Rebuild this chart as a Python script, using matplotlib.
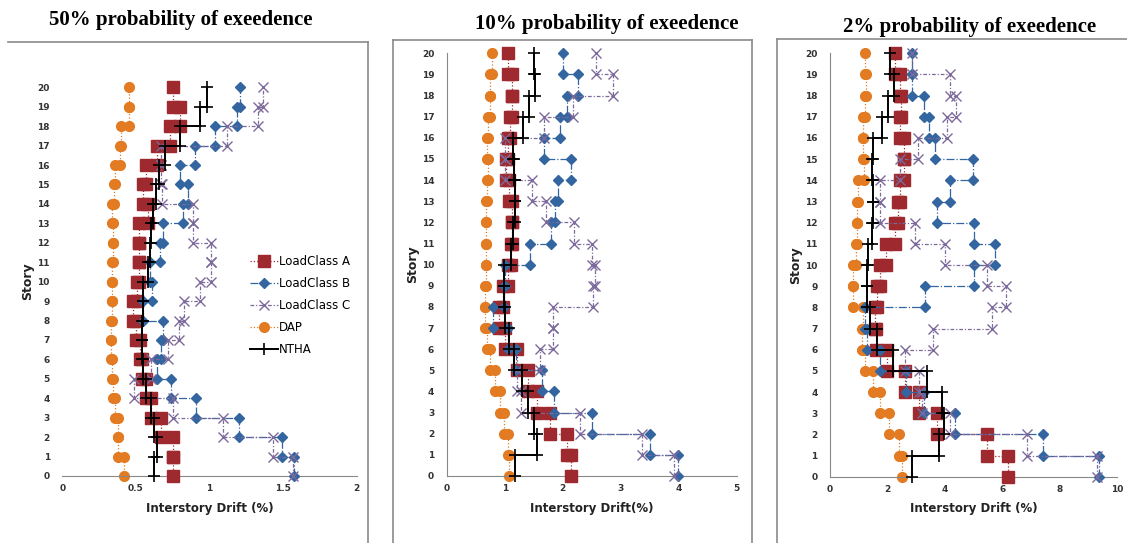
import matplotlib
matplotlib.use("Agg")
import matplotlib.pyplot as plt
import numpy as np
from matplotlib.lines import Line2D

# interstory drift (%) for stories 1..20, one list per method and hazard level
A50 = [0.75, 0.75, 0.67, 0.60, 0.57, 0.54, 0.53, 0.50, 0.48, 0.51,
       0.52, 0.52, 0.52, 0.58, 0.55, 0.57, 0.64, 0.73, 0.80, 0.75]
B50 = [1.575, 1.49, 1.20, 0.91, 0.74, 0.64, 0.67, 0.685, 0.55, 0.61,
       0.595, 0.665, 0.685, 0.82, 0.855, 0.80, 0.90, 1.04, 1.19, 1.21]
C50 = [1.57, 1.43, 1.09, 0.754, 0.49, 0.60, 0.72, 0.79, 0.83, 0.935,
       1.01, 1.01, 0.885, 0.885, 0.675, 0.67, 0.67, 1.12, 1.33, 1.365]
D50 = [0.42, 0.38, 0.38, 0.36, 0.345, 0.34, 0.33, 0.33, 0.335, 0.335,
       0.335, 0.345, 0.345, 0.34, 0.35, 0.355, 0.39, 0.40, 0.45, 0.45]
N50 = [0.625, 0.64, 0.62, 0.60, 0.57, 0.55, 0.54, 0.54, 0.545, 0.55,
       0.585, 0.595, 0.605, 0.615, 0.635, 0.66, 0.70, 0.80, 0.935, 0.985]

A10 = [2.15, 2.07, 1.78, 1.55, 1.40, 1.22, 1.00, 0.90, 0.97, 1.06,
       1.10, 1.12, 1.12, 1.08, 1.03, 1.05, 1.09, 1.12, 1.12, 1.06]
B10 = [3.98, 3.50, 2.50, 1.85, 1.65, 1.20, 1.05, 0.80, 0.98, 1.00,
       1.44, 1.79, 1.87, 1.92, 2.15, 1.67, 1.95, 2.07, 2.27, 2.00]
C10 = [3.91, 3.36, 2.30, 1.28, 1.22, 1.60, 1.84, 1.84, 2.53, 2.55,
       2.50, 2.20, 1.72, 1.47, 1.00, 1.00, 1.67, 2.18, 2.87, 2.57]
D10 = [1.08, 1.05, 0.99, 0.92, 0.83, 0.74, 0.70, 0.66, 0.66, 0.67,
       0.68, 0.68, 0.68, 0.70, 0.71, 0.69, 0.71, 0.74, 0.75, 0.78]
N10 = [1.18, 1.55, 1.50, 1.40, 1.30, 1.16, 1.08, 1.00, 0.98, 0.99,
       1.10, 1.15, 1.17, 1.17, 1.16, 1.15, 1.32, 1.42, 1.53, 1.50]

A2 = [6.19, 5.47, 3.74, 3.10, 2.62, 2.00, 1.60, 1.57, 1.63, 1.75,
      1.95, 2.25, 2.36, 2.44, 2.59, 2.56, 2.44, 2.47, 2.42, 2.27]
B2 = [9.36, 7.42, 4.36, 3.28, 2.65, 1.74, 1.30, 1.20, 3.30, 5.00,
      5.75, 5.00, 3.72, 4.19, 4.98, 3.66, 3.43, 3.26, 2.85, 2.85]
C2 = [9.30, 6.86, 4.19, 3.20, 3.08, 2.60, 3.58, 5.64, 6.14, 5.47,
      4.00, 2.97, 1.74, 1.74, 2.45, 3.05, 4.07, 4.40, 4.16, 2.85]
D2 = [2.50, 2.40, 2.05, 1.74, 1.50, 1.22, 1.10, 1.16, 0.79, 0.80,
      0.89, 0.94, 0.93, 0.98, 1.18, 1.14, 1.16, 1.23, 1.26, 1.22]
N2 = [2.85, 3.80, 3.95, 3.90, 3.37, 2.20, 1.65, 1.40, 1.28, 1.28,
      1.33, 1.45, 1.50, 1.48, 1.45, 1.50, 1.80, 2.03, 2.24, 2.10]

titles = ["50% probability of exeedence", "10% probability of exeedence",
          "2% probability of exeedence"]
xlabels = ["Interstory Drift (%)", "Interstory Drift(%)", "Interstory Drift (%)"]
xlims = [2, 5, 10]
xticks = [[0, 0.5, 1, 1.5, 2], [0, 1, 2, 3, 4, 5], [0, 2, 4, 6, 8, 10]]
names = ["LoadClass A", "LoadClass B", "LoadClass C", "DAP", "NTHA"]

red = "#9E2A2F"
blue = "#3366A0"
purple = "#7D6A9C"
orange = "#E27B22"

styles = [
    dict(color=red, ls=":", marker="s", ms=8.5, lw=0.9, zorder=3),
    dict(color=blue, ls="-.", marker="D", ms=5.5, lw=0.9, zorder=4),
    dict(color=purple, ls=(0, (3, 1.5, 1, 1.5)), marker="x", ms=7, mew=1.0, lw=0.9, zorder=5),
    dict(color=orange, ls=":", marker="o", ms=7, lw=0.9, zorder=2),
    dict(color="black", ls="-", marker="+", ms=9, mew=1.2, lw=1.4, zorder=6),
]

panels = [[A50, B50, C50, D50, N50],
          [A10, B10, C10, D10, N10],
          [A2, B2, C2, D2, N2]]

boxes = [[0.0553, 0.1234, 0.2612, 0.7158],
         [0.3964, 0.1234, 0.2573, 0.7784],
         [0.7365, 0.1221, 0.2549, 0.7797]]

fig = plt.figure(figsize=(11.27, 5.43), dpi=100)

story_y = np.repeat(np.arange(21), 2)[1:-1]  # 0,1,1,2,2,...,19,20

for k in range(3):
    ax = fig.add_axes(boxes[k])
    for vals, st in zip(panels[k], styles):
        xs = np.repeat(vals, 2)
        ax.plot(xs, story_y, clip_on=False, **st)
    ax.set_xlim(0, xlims[k])
    ax.set_ylim(0, 20)
    ax.set_xticks(xticks[k])
    ax.set_xticklabels([f"{t:g}" for t in xticks[k]])
    ax.set_yticks(range(21))
    ax.tick_params(length=0, labelsize=6.5, colors="#333333")
    ax.tick_params(axis="y", pad=9)
    ax.tick_params(axis="x", pad=6)
    for lab in ax.get_xticklabels() + ax.get_yticklabels():
        lab.set_fontweight("bold")
    for s in ["top", "right"]:
        ax.spines[s].set_visible(False)
    ax.spines["bottom"].set_color("#888888")
    ax.spines["left"].set_color("#888888")
    if k == 0:
        ax.spines["left"].set_visible(False)
    ax.set_xlabel(xlabels[k], fontsize=8.5, fontweight="bold", color="#222222", labelpad=6)
    ax.set_ylabel("Story", fontsize=9, fontweight="bold", color="#222222", labelpad=2)

    if k == 0:
        handles = [Line2D([], [], **{kk: v for kk, v in st.items() if kk != "zorder"})
                   for st in styles]
        ax.legend(handles, names, loc="upper left", bbox_to_anchor=(0.6, 0.595),
                  frameon=False, fontsize=8.5, handlelength=2.4, handletextpad=0.1,
                  labelspacing=0.75)

# panel titles
fig.text(181 / 1127, 1 - 20 / 543, titles[0], ha="center", va="center",
         fontsize=15, fontweight="bold", family="Liberation Serif")
fig.text(607 / 1127, 1 - 24 / 543, titles[1], ha="center", va="center",
         fontsize=15, fontweight="bold", family="Liberation Serif")
fig.text(970 / 1127, 1 - 27 / 543, titles[2], ha="center", va="center",
         fontsize=15, fontweight="bold", family="Liberation Serif")

# gray chart-area frames
def fline(x0, y0, x1, y1):
    fig.add_artist(Line2D([x0 / 1127, x1 / 1127], [1 - y0 / 543, 1 - y1 / 543],
                          color="#8a8a8a", lw=1.2))

fline(8, 42, 368, 42)
fline(368, 42, 368, 543)
fline(393, 40, 752, 40)
fline(393, 40, 393, 543)
fline(752, 40, 752, 543)
fline(777, 39, 1127, 39)
fline(777, 39, 777, 543)

fig.savefig("out.png", dpi=100)
